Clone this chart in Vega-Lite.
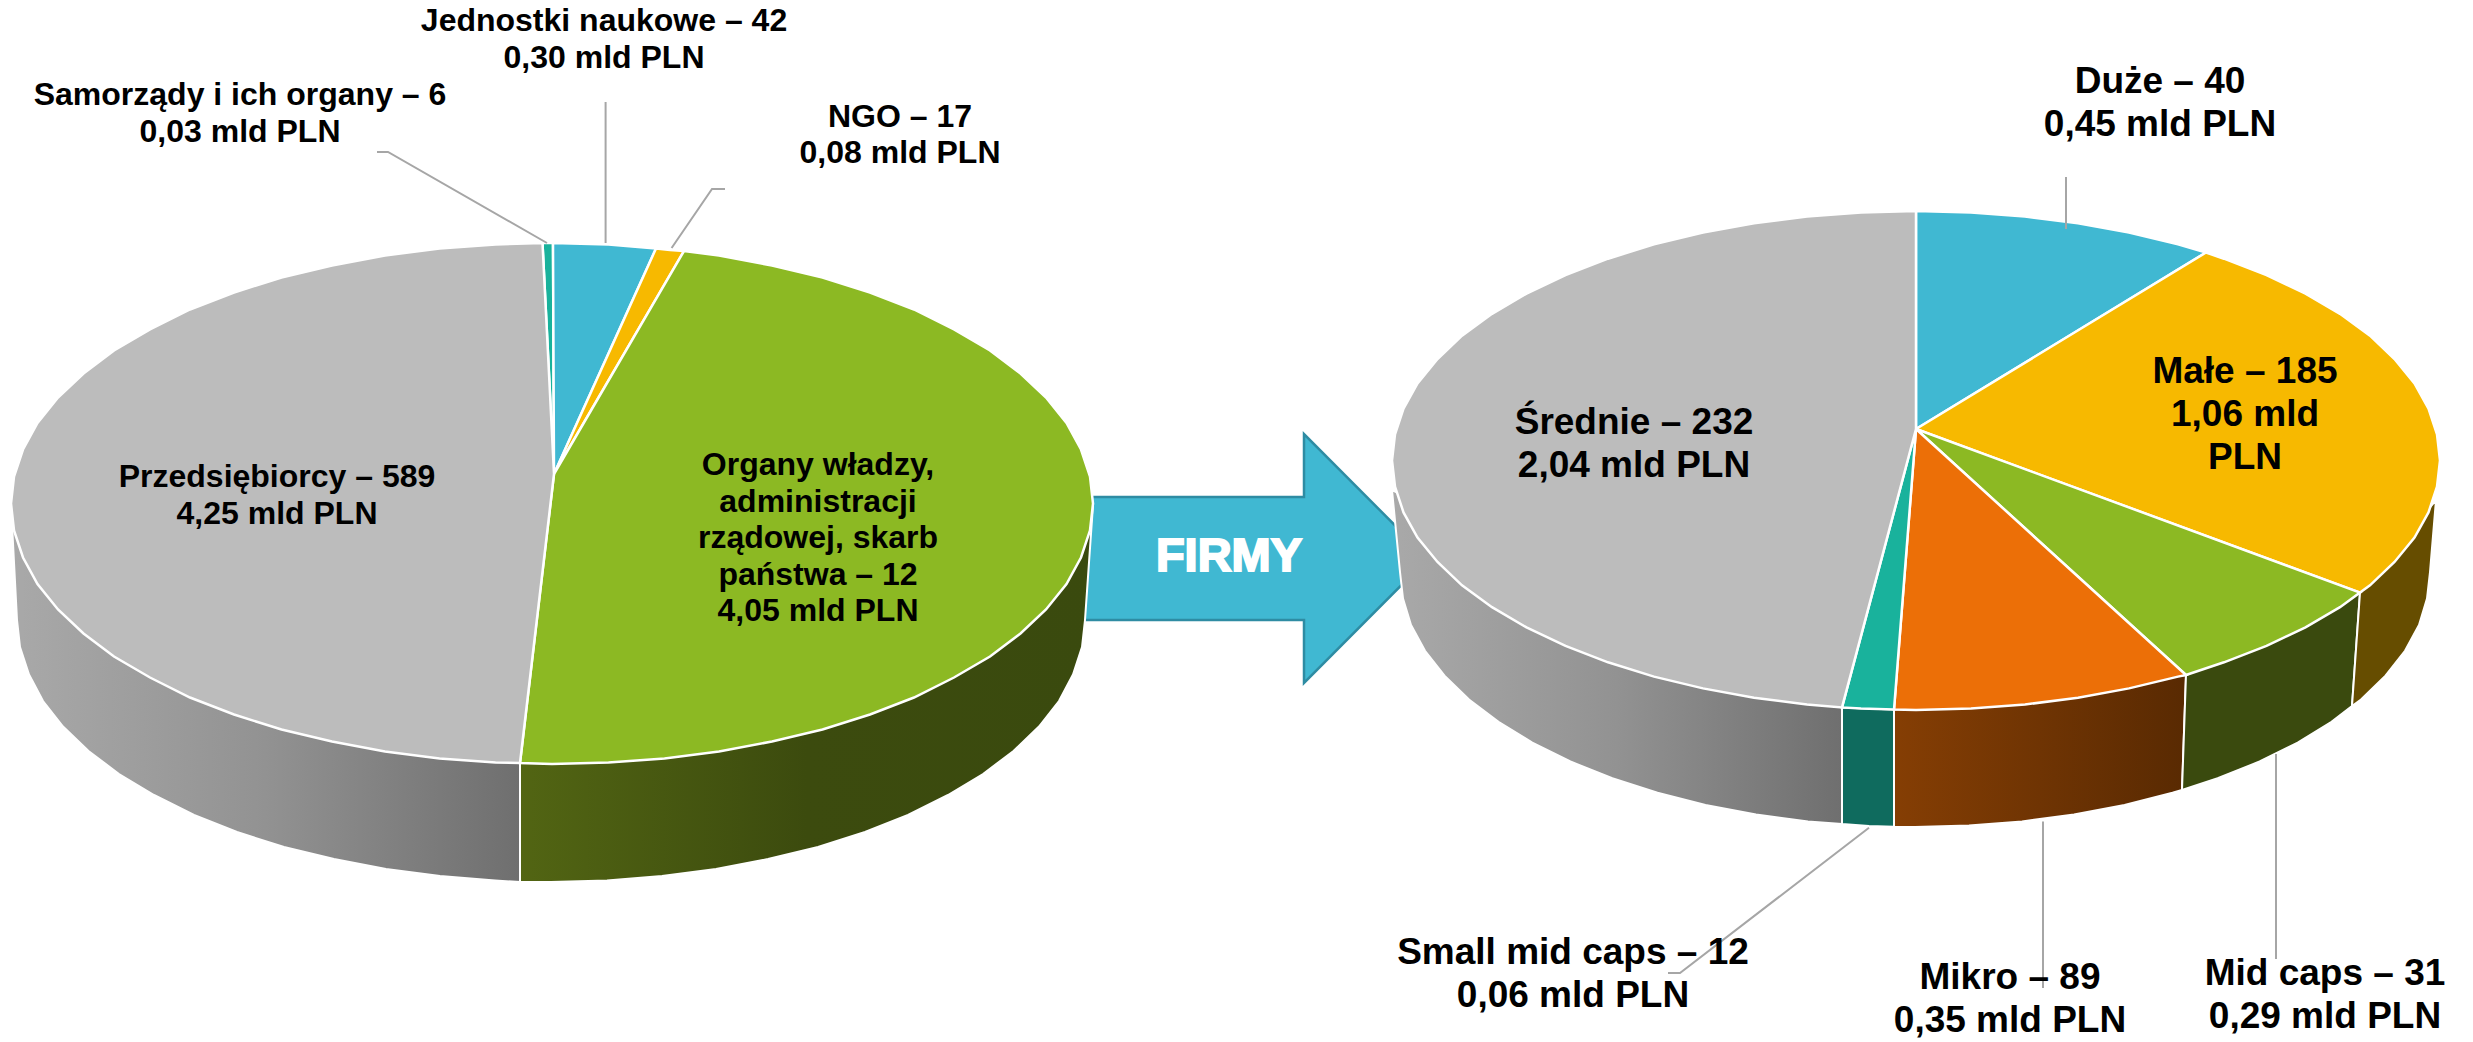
{"$schema":"https://vega.github.io/schema/vega-lite/v6.json","width":2473,"height":1042,"padding":0,"autosize":{"type":"fit","contains":"padding"},"background":"white","config":{"view":{"stroke":null}},
"datasets":{
"shapes":[
{"slice":"Strzałka","part":"arrow","x":1070,"y":497},{"slice":"Strzałka","part":"arrow","x":1304,"y":497},{"slice":"Strzałka","part":"arrow","x":1304,"y":434},{"slice":"Strzałka","part":"arrow","x":1428,"y":558.5},{"slice":"Strzałka","part":"arrow","x":1304,"y":683},{"slice":"Strzałka","part":"arrow","x":1304,"y":620},{"slice":"Strzałka","part":"arrow","x":1070,"y":620},

{"slice":"Przedsiębiorcy","part":"side","x":520,"y":763},{"slice":"Przedsiębiorcy","part":"side","x":520,"y":882},{"slice":"Przedsiębiorcy","part":"side","x":495,"y":880.5},{"slice":"Przedsiębiorcy","part":"side","x":440,"y":876},{"slice":"Przedsiębiorcy","part":"side","x":386,"y":869},{"slice":"Przedsiębiorcy","part":"side","x":334,"y":859},{"slice":"Przedsiębiorcy","part":"side","x":284,"y":847},{"slice":"Przedsiębiorcy","part":"side","x":237,"y":832},{"slice":"Przedsiębiorcy","part":"side","x":194,"y":815},{"slice":"Przedsiębiorcy","part":"side","x":154,"y":795},{"slice":"Przedsiębiorcy","part":"side","x":119,"y":774},{"slice":"Przedsiębiorcy","part":"side","x":88.5,"y":751},{"slice":"Przedsiębiorcy","part":"side","x":63,"y":726.5},{"slice":"Przedsiębiorcy","part":"side","x":43,"y":701},{"slice":"Przedsiębiorcy","part":"side","x":29,"y":674.5},{"slice":"Przedsiębiorcy","part":"side","x":20,"y":647},{"slice":"Przedsiębiorcy","part":"side","x":17,"y":620},{"slice":"Przedsiębiorcy","part":"side","x":11,"y":505},

{"slice":"Organy","part":"side","x":520,"y":763},{"slice":"Organy","part":"side","x":520,"y":882},{"slice":"Organy","part":"side","x":551,"y":882},{"slice":"Organy","part":"side","x":607,"y":880.5},{"slice":"Organy","part":"side","x":662,"y":876},{"slice":"Organy","part":"side","x":716,"y":869},{"slice":"Organy","part":"side","x":768,"y":859},{"slice":"Organy","part":"side","x":818,"y":847},{"slice":"Organy","part":"side","x":865,"y":832},{"slice":"Organy","part":"side","x":908,"y":815},{"slice":"Organy","part":"side","x":948,"y":795},{"slice":"Organy","part":"side","x":983,"y":774},{"slice":"Organy","part":"side","x":1013.5,"y":751},{"slice":"Organy","part":"side","x":1039,"y":726.5},{"slice":"Organy","part":"side","x":1059,"y":701},{"slice":"Organy","part":"side","x":1073,"y":674.5},{"slice":"Organy","part":"side","x":1082,"y":647},{"slice":"Organy","part":"side","x":1085,"y":620},{"slice":"Organy","part":"side","x":1093,"y":505},

{"slice":"Średnie","part":"side","x":1842,"y":707.4},{"slice":"Średnie","part":"side","x":1842,"y":824},{"slice":"Średnie","part":"side","x":1808,"y":821.4},{"slice":"Średnie","part":"side","x":1756,"y":814.5},{"slice":"Średnie","part":"side","x":1705.5,"y":805},{"slice":"Średnie","part":"side","x":1657.5,"y":792.8},{"slice":"Średnie","part":"side","x":1612.3,"y":778.3},{"slice":"Średnie","part":"side","x":1570.4,"y":761.5},{"slice":"Średnie","part":"side","x":1532.3,"y":742.6},{"slice":"Średnie","part":"side","x":1498.5,"y":721.9},{"slice":"Średnie","part":"side","x":1469,"y":699.5},{"slice":"Średnie","part":"side","x":1444.5,"y":675.7},{"slice":"Średnie","part":"side","x":1425,"y":650.8},{"slice":"Średnie","part":"side","x":1411,"y":625},{"slice":"Średnie","part":"side","x":1403,"y":598.6},{"slice":"Średnie","part":"side","x":1400,"y":572},{"slice":"Średnie","part":"side","x":1392,"y":490},

{"slice":"Small mid caps","part":"side","x":1842,"y":707.4},{"slice":"Small mid caps","part":"side","x":1894,"y":709.5},{"slice":"Small mid caps","part":"side","x":1894,"y":826.7},{"slice":"Small mid caps","part":"side","x":1869,"y":826},{"slice":"Small mid caps","part":"side","x":1842,"y":824},

{"slice":"Mikro","part":"side","x":1894,"y":709.5},{"slice":"Mikro","part":"side","x":2186,"y":675},{"slice":"Mikro","part":"side","x":2182,"y":790},{"slice":"Mikro","part":"side","x":2172.5,"y":792.8},{"slice":"Mikro","part":"side","x":2124.5,"y":805},{"slice":"Mikro","part":"side","x":2074,"y":814.5},{"slice":"Mikro","part":"side","x":2022,"y":821.4},{"slice":"Mikro","part":"side","x":1969,"y":825.6},{"slice":"Mikro","part":"side","x":1915,"y":827},{"slice":"Mikro","part":"side","x":1894,"y":826.7},

{"slice":"Mid caps","part":"side","x":2186,"y":675},{"slice":"Mid caps","part":"side","x":2360,"y":592.6},{"slice":"Mid caps","part":"side","x":2352,"y":706},{"slice":"Mid caps","part":"side","x":2331.5,"y":721.9},{"slice":"Mid caps","part":"side","x":2297.7,"y":742.6},{"slice":"Mid caps","part":"side","x":2259.6,"y":761.5},{"slice":"Mid caps","part":"side","x":2217.7,"y":778.3},{"slice":"Mid caps","part":"side","x":2182,"y":790},

{"slice":"Małe","part":"side","x":2360,"y":592.6},{"slice":"Małe","part":"side","x":2436,"y":500},{"slice":"Małe","part":"side","x":2430,"y":572},{"slice":"Małe","part":"side","x":2427,"y":598.6},{"slice":"Małe","part":"side","x":2419,"y":625},{"slice":"Małe","part":"side","x":2405,"y":650.8},{"slice":"Małe","part":"side","x":2385.5,"y":675.7},{"slice":"Małe","part":"side","x":2361,"y":699.5},{"slice":"Małe","part":"side","x":2352,"y":706},

{"slice":"Samorządy","part":"top","x":554,"y":474},{"slice":"Samorządy","part":"top","x":542.5,"y":243},{"slice":"Samorządy","part":"top","x":553,"y":243},

{"slice":"Jednostki naukowe","part":"top","x":554,"y":474},{"slice":"Jednostki naukowe","part":"top","x":553,"y":243},{"slice":"Jednostki naukowe","part":"top","x":608.5,"y":244.5},{"slice":"Jednostki naukowe","part":"top","x":656,"y":248.5},

{"slice":"NGO","part":"top","x":554,"y":474},{"slice":"NGO","part":"top","x":656,"y":248.5},{"slice":"NGO","part":"top","x":670,"y":250},{"slice":"NGO","part":"top","x":684,"y":251},

{"slice":"Organy","part":"top","x":554,"y":474},{"slice":"Organy","part":"top","x":684,"y":251},{"slice":"Organy","part":"top","x":719,"y":255.5},{"slice":"Organy","part":"top","x":772,"y":265.5},{"slice":"Organy","part":"top","x":822.5,"y":277.5},{"slice":"Organy","part":"top","x":870,"y":292.5},{"slice":"Organy","part":"top","x":914,"y":309.5},{"slice":"Organy","part":"top","x":954,"y":329.5},{"slice":"Organy","part":"top","x":990,"y":350.5},{"slice":"Organy","part":"top","x":1020.5,"y":373.5},{"slice":"Organy","part":"top","x":1046,"y":397.5},{"slice":"Organy","part":"top","x":1066.5,"y":423},{"slice":"Organy","part":"top","x":1081,"y":449.5},{"slice":"Organy","part":"top","x":1090,"y":476.5},{"slice":"Organy","part":"top","x":1093,"y":503.5},{"slice":"Organy","part":"top","x":1090,"y":530.5},{"slice":"Organy","part":"top","x":1081,"y":557.5},{"slice":"Organy","part":"top","x":1066.5,"y":584},{"slice":"Organy","part":"top","x":1046,"y":609.5},{"slice":"Organy","part":"top","x":1020.5,"y":633.5},{"slice":"Organy","part":"top","x":990,"y":656.5},{"slice":"Organy","part":"top","x":954,"y":677.5},{"slice":"Organy","part":"top","x":914,"y":697.5},{"slice":"Organy","part":"top","x":870,"y":714.5},{"slice":"Organy","part":"top","x":822.5,"y":729.5},{"slice":"Organy","part":"top","x":772,"y":741.5},{"slice":"Organy","part":"top","x":719,"y":751.5},{"slice":"Organy","part":"top","x":664.5,"y":758.5},{"slice":"Organy","part":"top","x":608.5,"y":762.5},{"slice":"Organy","part":"top","x":552,"y":764},{"slice":"Organy","part":"top","x":520,"y":763},

{"slice":"Przedsiębiorcy","part":"top","x":554,"y":474},{"slice":"Przedsiębiorcy","part":"top","x":520,"y":763},{"slice":"Przedsiębiorcy","part":"top","x":495.5,"y":762.5},{"slice":"Przedsiębiorcy","part":"top","x":439.5,"y":758.5},{"slice":"Przedsiębiorcy","part":"top","x":385,"y":751.5},{"slice":"Przedsiębiorcy","part":"top","x":332,"y":741.5},{"slice":"Przedsiębiorcy","part":"top","x":281.5,"y":729.5},{"slice":"Przedsiębiorcy","part":"top","x":234,"y":714.5},{"slice":"Przedsiębiorcy","part":"top","x":190,"y":697.5},{"slice":"Przedsiębiorcy","part":"top","x":150,"y":677.5},{"slice":"Przedsiębiorcy","part":"top","x":114,"y":656.5},{"slice":"Przedsiębiorcy","part":"top","x":83.5,"y":633.5},{"slice":"Przedsiębiorcy","part":"top","x":58,"y":609.5},{"slice":"Przedsiębiorcy","part":"top","x":37.5,"y":584},{"slice":"Przedsiębiorcy","part":"top","x":23,"y":557.5},{"slice":"Przedsiębiorcy","part":"top","x":14,"y":530.5},{"slice":"Przedsiębiorcy","part":"top","x":11,"y":503.5},{"slice":"Przedsiębiorcy","part":"top","x":14,"y":476.5},{"slice":"Przedsiębiorcy","part":"top","x":23,"y":449.5},{"slice":"Przedsiębiorcy","part":"top","x":37.5,"y":423},{"slice":"Przedsiębiorcy","part":"top","x":58,"y":397.5},{"slice":"Przedsiębiorcy","part":"top","x":83.5,"y":373.5},{"slice":"Przedsiębiorcy","part":"top","x":114,"y":350.5},{"slice":"Przedsiębiorcy","part":"top","x":150,"y":329.5},{"slice":"Przedsiębiorcy","part":"top","x":190,"y":309.5},{"slice":"Przedsiębiorcy","part":"top","x":234,"y":292.5},{"slice":"Przedsiębiorcy","part":"top","x":281.5,"y":277.5},{"slice":"Przedsiębiorcy","part":"top","x":332,"y":265.5},{"slice":"Przedsiębiorcy","part":"top","x":385,"y":255.5},{"slice":"Przedsiębiorcy","part":"top","x":439.5,"y":248.5},{"slice":"Przedsiębiorcy","part":"top","x":495.5,"y":244.5},{"slice":"Przedsiębiorcy","part":"top","x":542.5,"y":243},

{"slice":"Duże","part":"top","x":1916,"y":429},{"slice":"Duże","part":"top","x":1916,"y":211},{"slice":"Duże","part":"top","x":1971,"y":212.4},{"slice":"Duże","part":"top","x":2025,"y":216.5},{"slice":"Duże","part":"top","x":2078,"y":223.2},{"slice":"Duże","part":"top","x":2129,"y":232.6},{"slice":"Duże","part":"top","x":2178,"y":244.4},{"slice":"Duże","part":"top","x":2206,"y":252.5},

{"slice":"Małe","part":"top","x":1916,"y":429},{"slice":"Małe","part":"top","x":2206,"y":252.5},{"slice":"Małe","part":"top","x":2224,"y":258.7},{"slice":"Małe","part":"top","x":2266.5,"y":275.1},{"slice":"Małe","part":"top","x":2305.5,"y":293.6},{"slice":"Małe","part":"top","x":2340,"y":313.8},{"slice":"Małe","part":"top","x":2370,"y":335.7},{"slice":"Małe","part":"top","x":2394.5,"y":359},{"slice":"Małe","part":"top","x":2414.5,"y":383.4},{"slice":"Małe","part":"top","x":2428.5,"y":408.6},{"slice":"Małe","part":"top","x":2437,"y":434.4},{"slice":"Małe","part":"top","x":2440,"y":460.5},{"slice":"Małe","part":"top","x":2437,"y":486.6},{"slice":"Małe","part":"top","x":2428.5,"y":512.4},{"slice":"Małe","part":"top","x":2414.5,"y":537.6},{"slice":"Małe","part":"top","x":2394.5,"y":562},{"slice":"Małe","part":"top","x":2370,"y":585.3},{"slice":"Małe","part":"top","x":2360,"y":592.6},

{"slice":"Mid caps","part":"top","x":1916,"y":429},{"slice":"Mid caps","part":"top","x":2360,"y":592.6},{"slice":"Mid caps","part":"top","x":2340,"y":607.2},{"slice":"Mid caps","part":"top","x":2305.5,"y":627.4},{"slice":"Mid caps","part":"top","x":2266.5,"y":645.9},{"slice":"Mid caps","part":"top","x":2224,"y":662.3},{"slice":"Mid caps","part":"top","x":2186,"y":675},

{"slice":"Mikro","part":"top","x":1916,"y":429},{"slice":"Mikro","part":"top","x":2186,"y":675},{"slice":"Mikro","part":"top","x":2178,"y":676.6},{"slice":"Mikro","part":"top","x":2129,"y":688.4},{"slice":"Mikro","part":"top","x":2078,"y":697.8},{"slice":"Mikro","part":"top","x":2025,"y":704.5},{"slice":"Mikro","part":"top","x":1971,"y":708.6},{"slice":"Mikro","part":"top","x":1916,"y":710},{"slice":"Mikro","part":"top","x":1894,"y":709.5},

{"slice":"Small mid caps","part":"top","x":1916,"y":429},{"slice":"Small mid caps","part":"top","x":1894,"y":709.5},{"slice":"Small mid caps","part":"top","x":1861,"y":708.6},{"slice":"Small mid caps","part":"top","x":1842,"y":707.4},

{"slice":"Średnie","part":"top","x":1916,"y":429},{"slice":"Średnie","part":"top","x":1842,"y":707.4},{"slice":"Średnie","part":"top","x":1807,"y":704.5},{"slice":"Średnie","part":"top","x":1754,"y":697.8},{"slice":"Średnie","part":"top","x":1703,"y":688.4},{"slice":"Średnie","part":"top","x":1654,"y":676.6},{"slice":"Średnie","part":"top","x":1608,"y":662.3},{"slice":"Średnie","part":"top","x":1565.5,"y":645.9},{"slice":"Średnie","part":"top","x":1526.5,"y":627.4},{"slice":"Średnie","part":"top","x":1492,"y":607.2},{"slice":"Średnie","part":"top","x":1462,"y":585.3},{"slice":"Średnie","part":"top","x":1437.5,"y":562},{"slice":"Średnie","part":"top","x":1417.5,"y":537.6},{"slice":"Średnie","part":"top","x":1403.5,"y":512.4},{"slice":"Średnie","part":"top","x":1395,"y":486.6},{"slice":"Średnie","part":"top","x":1392,"y":460.5},{"slice":"Średnie","part":"top","x":1395,"y":434.4},{"slice":"Średnie","part":"top","x":1403.5,"y":408.6},{"slice":"Średnie","part":"top","x":1417.5,"y":383.4},{"slice":"Średnie","part":"top","x":1437.5,"y":359},{"slice":"Średnie","part":"top","x":1462,"y":335.7},{"slice":"Średnie","part":"top","x":1492,"y":313.8},{"slice":"Średnie","part":"top","x":1526.5,"y":293.6},{"slice":"Średnie","part":"top","x":1565.5,"y":275.1},{"slice":"Średnie","part":"top","x":1608,"y":258.7},{"slice":"Średnie","part":"top","x":1654,"y":244.4},{"slice":"Średnie","part":"top","x":1703,"y":232.6},{"slice":"Średnie","part":"top","x":1754,"y":223.2},{"slice":"Średnie","part":"top","x":1807,"y":216.5},{"slice":"Średnie","part":"top","x":1861,"y":212.4},{"slice":"Średnie","part":"top","x":1916,"y":211}
],
"leaders":[
{"slice":"Samorządy","x":377,"y":152},{"slice":"Samorządy","x":388,"y":152},{"slice":"Samorządy","x":547,"y":243},
{"slice":"Jednostki naukowe","x":605.6,"y":102},{"slice":"Jednostki naukowe","x":605.6,"y":243},
{"slice":"NGO","x":725,"y":189},{"slice":"NGO","x":712,"y":189},{"slice":"NGO","x":671.6,"y":248},
{"slice":"Duże","x":2066,"y":177},{"slice":"Duże","x":2066,"y":229},
{"slice":"Mikro","x":2043,"y":821.5},{"slice":"Mikro","x":2043,"y":988},
{"slice":"Mid caps","x":2276,"y":754},{"slice":"Mid caps","x":2276,"y":959},
{"slice":"Small mid caps","x":1869,"y":827.7},{"slice":"Small mid caps","x":1680,"y":973},{"slice":"Small mid caps","x":1668,"y":973}
],
"labels":[
{"name":"Jednostki naukowe","count":42,"mld_pln":0.30,"pie":"left","label":"Jednostki naukowe – 42\n0,30 mld PLN","x":604,"y":21},
{"name":"Samorządy i ich organy","count":6,"mld_pln":0.03,"pie":"left","label":"Samorządy i ich organy –  6\n0,03 mld PLN","x":240,"y":95},
{"name":"NGO","count":17,"mld_pln":0.08,"pie":"left","label":"NGO – 17\n0,08 mld PLN","x":900,"y":116.5},
{"name":"Przedsiębiorcy","count":589,"mld_pln":4.25,"pie":"left","label":"Przedsiębiorcy – 589\n4,25 mld PLN","x":277,"y":477},
{"name":"Organy władzy, administracji rządowej, skarb państwa","count":12,"mld_pln":4.05,"pie":"left","label":"Organy władzy,\nadministracji\nrządowej, skarb\npaństwa – 12\n4,05 mld PLN","x":818,"y":465},
{"name":"Duże","count":40,"mld_pln":0.45,"pie":"right","label":"Duże – 40\n0,45 mld PLN","x":2160,"y":82},
{"name":"Małe","count":185,"mld_pln":1.06,"pie":"right","label":"Małe – 185\n1,06 mld\nPLN","x":2245,"y":372},
{"name":"Średnie","count":232,"mld_pln":2.04,"pie":"right","label":"Średnie – 232\n2,04 mld PLN","x":1634,"y":423},
{"name":"Small mid caps","count":12,"mld_pln":0.06,"pie":"right","label":"Small mid caps – 12\n0,06 mld PLN","x":1573,"y":953},
{"name":"Mikro","count":89,"mld_pln":0.35,"pie":"right","label":"Mikro – 89\n0,35 mld PLN","x":2010,"y":978},
{"name":"Mid caps","count":31,"mld_pln":0.29,"pie":"right","label":"Mid caps – 31\n0,29 mld PLN","x":2325,"y":974}
],
"arrowLabel":[{"label":"FIRMY","x":1229,"y":557}]
},
"encoding":{
"x":{"field":"x","type":"quantitative","scale":{"domain":[0,2473],"nice":false,"zero":false},"axis":null},
"y":{"field":"y","type":"quantitative","scale":{"domain":[1042,0],"nice":false,"zero":false},"axis":null}
},
"layer":[
{"data":{"name":"shapes"},"transform":[{"filter":"datum.part==='arrow'"}],"mark":{"type":"line","interpolate":"linear-closed","fill":"#40b8d2","stroke":"#2e8ca3","strokeWidth":2.5},"encoding":{"order":{"value":null}}},
{"data":{"name":"shapes"},"transform":[{"filter":"datum.part==='side' && datum.slice==='Przedsiębiorcy' || datum.part==='side' && datum.slice==='Średnie'"}],"mark":{"type":"line","interpolate":"linear-closed","stroke":"white","strokeWidth":2,"fill":{"gradient":"linear","x1":0,"x2":1,"y1":0,"y2":0,"stops":[{"offset":0,"color":"#a9a9a9"},{"offset":0.5,"color":"#929292"},{"offset":1,"color":"#6f6f6f"}]}},"encoding":{"detail":{"field":"slice"},"order":{"value":null}}},
{"data":{"name":"shapes"},"transform":[{"filter":"datum.part==='side' && datum.slice==='Organy'"}],"mark":{"type":"line","interpolate":"linear-closed","stroke":"white","strokeWidth":2,"fill":{"gradient":"linear","x1":0,"x2":1,"y1":0,"y2":0,"stops":[{"offset":0,"color":"#526513"},{"offset":0.5,"color":"#3c4b0e"},{"offset":1,"color":"#3a4a0e"}]}},"encoding":{"order":{"value":null}}},
{"data":{"name":"shapes"},"transform":[{"filter":"datum.part==='side' && datum.slice==='Mikro'"}],"mark":{"type":"line","interpolate":"linear-closed","stroke":"white","strokeWidth":2,"fill":{"gradient":"linear","x1":0,"x2":1,"y1":0,"y2":0,"stops":[{"offset":0,"color":"#853e04"},{"offset":1,"color":"#592a02"}]}},"encoding":{"order":{"value":null}}},
{"data":{"name":"shapes"},"transform":[{"filter":"datum.part==='side' && (datum.slice==='Small mid caps' || datum.slice==='Mid caps' || datum.slice==='Małe')"}],"mark":{"type":"line","interpolate":"linear-closed","stroke":"white","strokeWidth":2},"encoding":{"order":{"value":null},"fill":{"field":"slice","type":"nominal","legend":null,"scale":{"domain":["Small mid caps","Mid caps","Małe"],"range":["#0f6b5e","#3a4a0e","#664d00"]}}}},
{"data":{"name":"shapes"},"transform":[{"filter":"datum.part==='top'"}],"mark":{"type":"line","interpolate":"linear-closed","stroke":"white","strokeWidth":2.5},"encoding":{"order":{"value":null},"fill":{"field":"slice","type":"nominal","legend":null,"scale":{"domain":["Samorządy","Jednostki naukowe","NGO","Organy","Przedsiębiorcy","Duże","Małe","Mid caps","Mikro","Small mid caps","Średnie"],"range":["#19b29c","#40b8d2","#f7b900","#8cb923","#bcbcbc","#40b8d2","#f7b900","#8cb923","#ec6f07","#19b29c","#bcbcbc"]}}}},
{"data":{"name":"leaders"},"mark":{"type":"line","stroke":"#a6a6a6","strokeWidth":2},"encoding":{"detail":{"field":"slice"},"order":{"value":null}}},
{"data":{"name":"labels"},"transform":[{"filter":"datum.pie==='left'"}],"mark":{"type":"text","font":"Liberation Sans","fontWeight":"bold","fontSize":32,"lineHeight":36.5,"lineBreak":"\n","align":"center","baseline":"middle","color":"black"},"encoding":{"text":{"field":"label"}}},
{"data":{"name":"labels"},"transform":[{"filter":"datum.pie==='right'"}],"mark":{"type":"text","font":"Liberation Sans","fontWeight":"bold","fontSize":37,"lineHeight":43,"lineBreak":"\n","align":"center","baseline":"middle","color":"black"},"encoding":{"text":{"field":"label"}}},
{"data":{"name":"arrowLabel"},"mark":{"type":"text","font":"Liberation Sans","fontWeight":"bold","fontSize":47,"align":"center","baseline":"middle","color":"white","stroke":"white","strokeWidth":2},"encoding":{"text":{"field":"label"}}}
],
"resolve":{"scale":{"fill":"independent"}}
}
